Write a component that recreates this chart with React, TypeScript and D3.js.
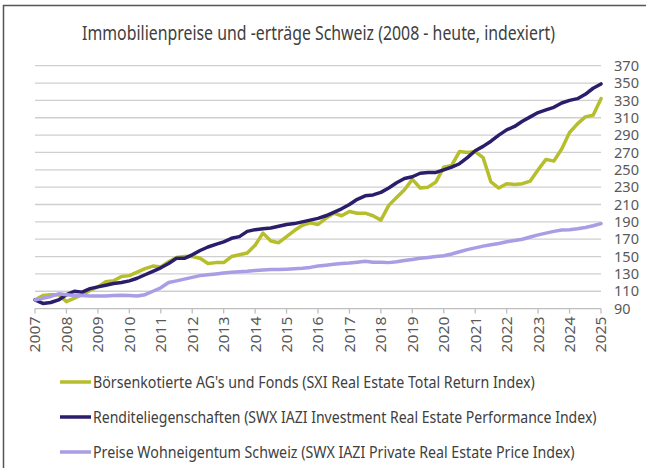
import React, { useLayoutEffect, useRef, useState } from "react";
import * as d3 from "d3";

const startYear = 2007;
const quartersPerYear = 4;

const sxiValues = [
  100, 105, 106, 106, 98, 102, 106, 111, 115, 121, 122, 127, 128, 132, 136, 139,
  138, 144, 149, 150, 150, 148, 142, 143, 143, 150, 152, 154, 163, 177, 168, 166,
  173, 180, 186, 189, 187, 194, 200, 197, 202, 200, 200, 197, 192, 209, 218, 227,
  239, 229, 230, 236, 253, 255, 271, 270, 271, 264, 236, 229, 234, 233, 234, 237,
  250, 262, 260, 274, 293, 303, 311, 313, 332,
];

const investmentValues = [
  100, 96, 97, 100, 106, 110, 109, 113, 115, 117, 119, 120, 122, 125, 129, 133,
  137, 142, 148, 148, 152, 157, 161, 164, 167, 171, 173, 179, 181, 182, 183, 185,
  187, 188, 190, 192, 194, 197, 201, 205, 210, 216, 220, 221, 224, 229, 235, 240,
  242, 246, 247, 247, 250, 253, 257, 264, 272, 277, 283, 290, 296, 300, 306, 311,
  316, 319, 322, 327, 330, 332, 337, 344, 349,
];

const privateValues = [
  100, 102, 104, 107, 106, 105, 105, 104.5, 104.5, 104.5, 105, 105.5, 105, 104.5, 106, 110,
  114, 120, 122, 124, 126, 128, 129, 130, 131, 132, 132.5, 133, 134, 134.5, 135, 135,
  135.5, 136, 136.5, 137.5, 139, 140, 141, 142, 142.5, 143.5, 144.7, 143.5, 143.5, 143, 144, 145.5,
  146.5, 148, 149, 150, 151, 153, 155.5, 158, 160, 162, 163.5, 165, 167, 168.5, 170, 172.5,
  175, 177, 179, 180.5, 181, 182, 183.5, 185.5, 188,
];

const seriesNames = [
  "Börsenkotierte AG's und Fonds (SXI Real Estate Total Return Index)",
  "Renditeliegenschaften (SWX IAZI Investment Real Estate Performance Index)",
  "Preise Wohneigentum Schweiz (SWX IAZI Private Real Estate Price Index)",
];
const seriesColors = ["#B6BE2B", "#2A1D6B", "#A99DE6"];
const legendTextLengths = [442, 504, 482];

const xTickYears = d3.range(2007, 2026);
const yTickValues = d3.range(90, 371, 20);

const title = "Immobilienpreise und -erträge Schweiz (2008 - heute, indexiert)";

const W = 646;
const H = 468;
const FONT = "'Noto Sans', 'Open Sans', sans-serif";

type FitProps = {
  x: number;
  y: number;
  width: number;
  anchor?: "start" | "middle" | "end";
  rotate?: number;
  fontSize: number;
  fill: string;
  children: string;
};

function FitText({ x, y, width, anchor = "start", rotate = 0, fontSize, fill, children }: FitProps) {
  const ref = useRef<SVGTextElement>(null);
  const [sx, setSx] = useState(1);
  useLayoutEffect(() => {
    if (ref.current) {
      const natural = ref.current.getComputedTextLength();
      if (natural > 0) setSx(width / natural);
    }
  }, [children, width, fontSize]);
  return (
    <text
      ref={ref}
      transform={`translate(${x},${y}) rotate(${rotate}) scale(${sx},1)`}
      textAnchor={anchor}
      dy="0.36em"
      fontSize={fontSize}
      fill={fill}
    >
      {children}
    </text>
  );
}

export default function App() {
  const x = d3.scaleLinear().domain([2007, 2025]).range([35, 601]);
  const y = d3.scaleLinear().domain([90, 370]).range([308.6, 65.7]);

  const allSeries = [sxiValues, investmentValues, privateValues];
  const line = d3
    .line<number>()
    .x((_, i) => x(startYear + i / quartersPerYear))
    .y((v) => y(v));

  return (
    <svg
      width={W}
      height={H}
      style={{ position: "absolute", left: 0, top: 0, background: "#fff" }}
      fontFamily={FONT}
    >
      <rect x={0} y={0} width={W} height={H} fill="#fff" />
      {/* frame */}
      <path d={`M3.5,${H} L3.5,5.5 L${W},5.5`} fill="none" stroke="#555" strokeWidth={1.5} />

      {/* title */}
      <FitText x={318.5} y={33} width={473} anchor="middle" fontSize={19} fill="#404040">
        {title}
      </FitText>

      {/* gridlines */}
      {yTickValues.map((v) => (
        <line
          key={v}
          x1={x(2007)}
          x2={x(2025)}
          y1={y(v)}
          y2={y(v)}
          stroke={v === 90 ? "#BFBFBF" : "#CFCFCF"}
          strokeWidth={1.3}
        />
      ))}

      {/* x ticks */}
      {xTickYears.map((yr) => (
        <line key={yr} x1={x(yr)} x2={x(yr)} y1={y(90)} y2={y(90) + 5} stroke="#BFBFBF" strokeWidth={1.3} />
      ))}

      {/* y labels */}
      {yTickValues.map((v) => (
        <FitText
          key={v}
          x={614}
          y={y(v)}
          width={String(v).length === 3 ? 25 : 16.5}
          fontSize={14.5}
          fill="#595959"
        >
          {String(v)}
        </FitText>
      ))}

      {/* x labels */}
      {xTickYears.map((yr) => (
        <FitText
          key={yr}
          x={x(yr)}
          y={y(90) + 8}
          rotate={-90}
          anchor="end"
          width={36}
          fontSize={15}
          fill="#595959"
        >
          {String(yr)}
        </FitText>
      ))}

      {/* series lines */}
      {allSeries.map((vals, i) => (
        <path
          key={i}
          d={line(vals) || ""}
          fill="none"
          stroke={seriesColors[i]}
          strokeWidth={3.5}
          strokeLinejoin="round"
          strokeLinecap="round"
        />
      ))}

      {/* legend */}
      {seriesNames.map((name, i) => {
        const ly = 382 + i * 35;
        return (
          <g key={name}>
            <line x1={60} x2={91} y1={ly} y2={ly} stroke={seriesColors[i]} strokeWidth={3.5} />
            <FitText x={93} y={ly} width={legendTextLengths[i]} fontSize={15.5} fill="#404040">
              {name}
            </FitText>
          </g>
        );
      })}
    </svg>
  );
}
